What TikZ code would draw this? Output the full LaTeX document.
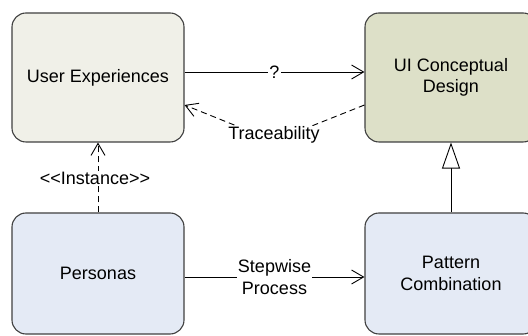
\documentclass[tikz,border=0pt]{standalone}
\usepackage{fontspec}
\setmainfont{Liberation Sans}
\usetikzlibrary{arrows.meta}
\definecolor{uefill}{HTML}{F0F0E8}
\definecolor{uifill}{HTML}{DDE0C8}
\definecolor{pfill}{HTML}{E4EAF5}
\definecolor{boxline}{HTML}{404040}
\tikzset{
  box/.style={draw=boxline, line width=1.1pt, rounded corners=14pt, align=center,
    minimum width=172pt, inner sep=0pt, font=\fontsize{18}{21.5}\selectfont},
  topbox/.style={box, minimum height=129pt},
  botbox/.style={box, minimum height=121pt},
  conn/.style={line width=0.9pt, black},
  opentip/.style={-{Straight Barb[length=12pt,width=14pt,line width=0.9pt]}},
  gentip/.style={-{Triangle[open,length=26pt,width=18pt,line width=0.9pt,fill=white]}},
  dashline/.style={dash pattern=on 6pt off 4pt},
  lbl/.style={fill=white, inner sep=1pt, align=center, font=\fontsize{18}{21.5}\selectfont}
}
\begin{document}
\begin{tikzpicture}[x=1pt,y=-1pt]
\clip (0,0) rectangle (528,336);
\fill[white] (0,0) rectangle (528,336);
\node[topbox, fill=uefill] (UE) at (98,77.5) {User Experiences};
\node[topbox, fill=uifill] (UI) at (451,77.5) {UI Conceptual\\Design};
\node[botbox, fill=pfill] (PE) at (98,273.5) {Personas};
\node[botbox, fill=pfill] (PC) at (451,273.5) {Pattern\\Combination};
\coordinate (ya) at (0,72);
\coordinate (yt) at (0,105);
\coordinate (ys) at (0,277);
\coordinate (tv) at (274,141);
% ? association
\draw[conn, opentip] (UE.east |- ya) -- node[lbl] {?} (UI.west |- ya);
% traceability
\draw[conn, dashline, opentip] (UI.west |- yt) -- (tv) -- (UE.east |- yt);
\node[lbl] (TR) at (274,135) {Traceability};
% instance
\draw[conn, dashline, opentip] (PE.north) -- (UE.south);
\node[lbl] (IN) at (95,178) {<{}<Instance>{}>};
% stepwise
\draw[conn, opentip] (PE.east |- ys) -- node[lbl] {Stepwise\\Process} (PC.west |- ys);
% generalization
\draw[conn, gentip] (PC.north) -- (UI.south);
\end{tikzpicture}
\end{document}
